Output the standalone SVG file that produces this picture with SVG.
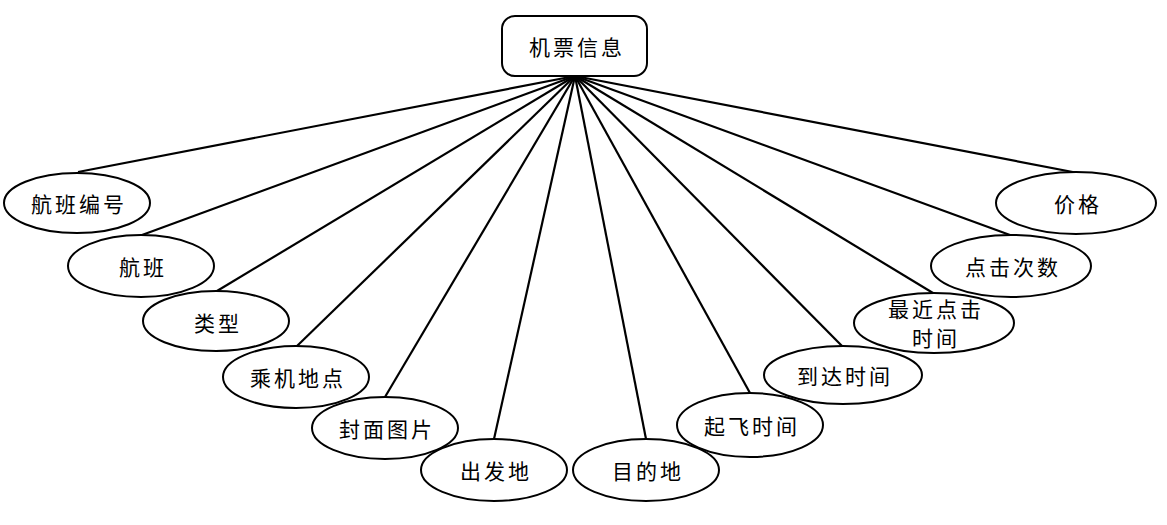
<svg xmlns="http://www.w3.org/2000/svg" width="1167" height="525" viewBox="0 0 1167 525">
<style>
.n{fill:#fff;stroke:#000;stroke-width:2}
.t{font-family:"Noto Sans CJK SC","Liberation Sans",sans-serif;font-size:21px;fill:#000;text-anchor:middle;dominant-baseline:central;letter-spacing:3px}
.c line{stroke:#000;stroke-width:2.2}
</style>
<rect width="1167" height="525" fill="#fff"/>
<g class="c" id="connectors">
<line x1="575" y1="76" x2="78" y2="172"/>
<line x1="575" y1="76" x2="142" y2="235"/>
<line x1="575" y1="76" x2="217" y2="291"/>
<line x1="575" y1="76" x2="297" y2="346"/>
<line x1="575" y1="76" x2="385" y2="397"/>
<line x1="575" y1="76" x2="494" y2="439"/>
<line x1="575" y1="76" x2="646" y2="439"/>
<line x1="575" y1="76" x2="750" y2="393"/>
<line x1="575" y1="76" x2="842" y2="346"/>
<line x1="575" y1="76" x2="933" y2="293"/>
<line x1="575" y1="76" x2="1010" y2="235"/>
<line x1="575" y1="76" x2="1078" y2="173"/>
</g>
<g id="root"><rect class="n" x="502" y="16" width="145" height="60" rx="13"/><text class="t" x="577" y="46">机票信息</text></g>
<g id="n1"><ellipse class="n" cx="77" cy="203" rx="73" ry="30"/><text class="t" x="79" y="203">航班编号</text></g>
<g id="n2"><ellipse class="n" cx="141" cy="266" rx="73" ry="31"/><text class="t" x="143" y="266">航班</text></g>
<g id="n3"><ellipse class="n" cx="216" cy="321" rx="73" ry="30"/><text class="t" x="218" y="322">类型</text></g>
<g id="n4"><ellipse class="n" cx="296" cy="377" rx="73" ry="31"/><text class="t" x="298" y="377">乘机地点</text></g>
<g id="n5"><ellipse class="n" cx="385" cy="428" rx="73" ry="31"/><text class="t" x="387" y="428">封面图片</text></g>
<g id="n6"><ellipse class="n" cx="494" cy="470" rx="73" ry="31"/><text class="t" x="496" y="470">出发地</text></g>
<g id="n7"><ellipse class="n" cx="646" cy="470" rx="73" ry="31"/><text class="t" x="648" y="470">目的地</text></g>
<g id="n8"><ellipse class="n" cx="750" cy="425" rx="73" ry="32"/><text class="t" x="752" y="425">起飞时间</text></g>
<g id="n9"><ellipse class="n" cx="843" cy="375" rx="79" ry="29"/><text class="t" x="845" y="375">到达时间</text></g>
<g id="n10"><ellipse class="n" cx="934" cy="323" rx="80" ry="30"/><text class="t" x="936" y="308">最近点击</text><text class="t" x="936" y="337">时间</text></g>
<g id="n11"><ellipse class="n" cx="1011" cy="266" rx="80" ry="31"/><text class="t" x="1013" y="266">点击次数</text></g>
<g id="n12"><ellipse class="n" cx="1076" cy="203" rx="80" ry="31"/><text class="t" x="1078" y="203">价格</text></g>
</svg>
